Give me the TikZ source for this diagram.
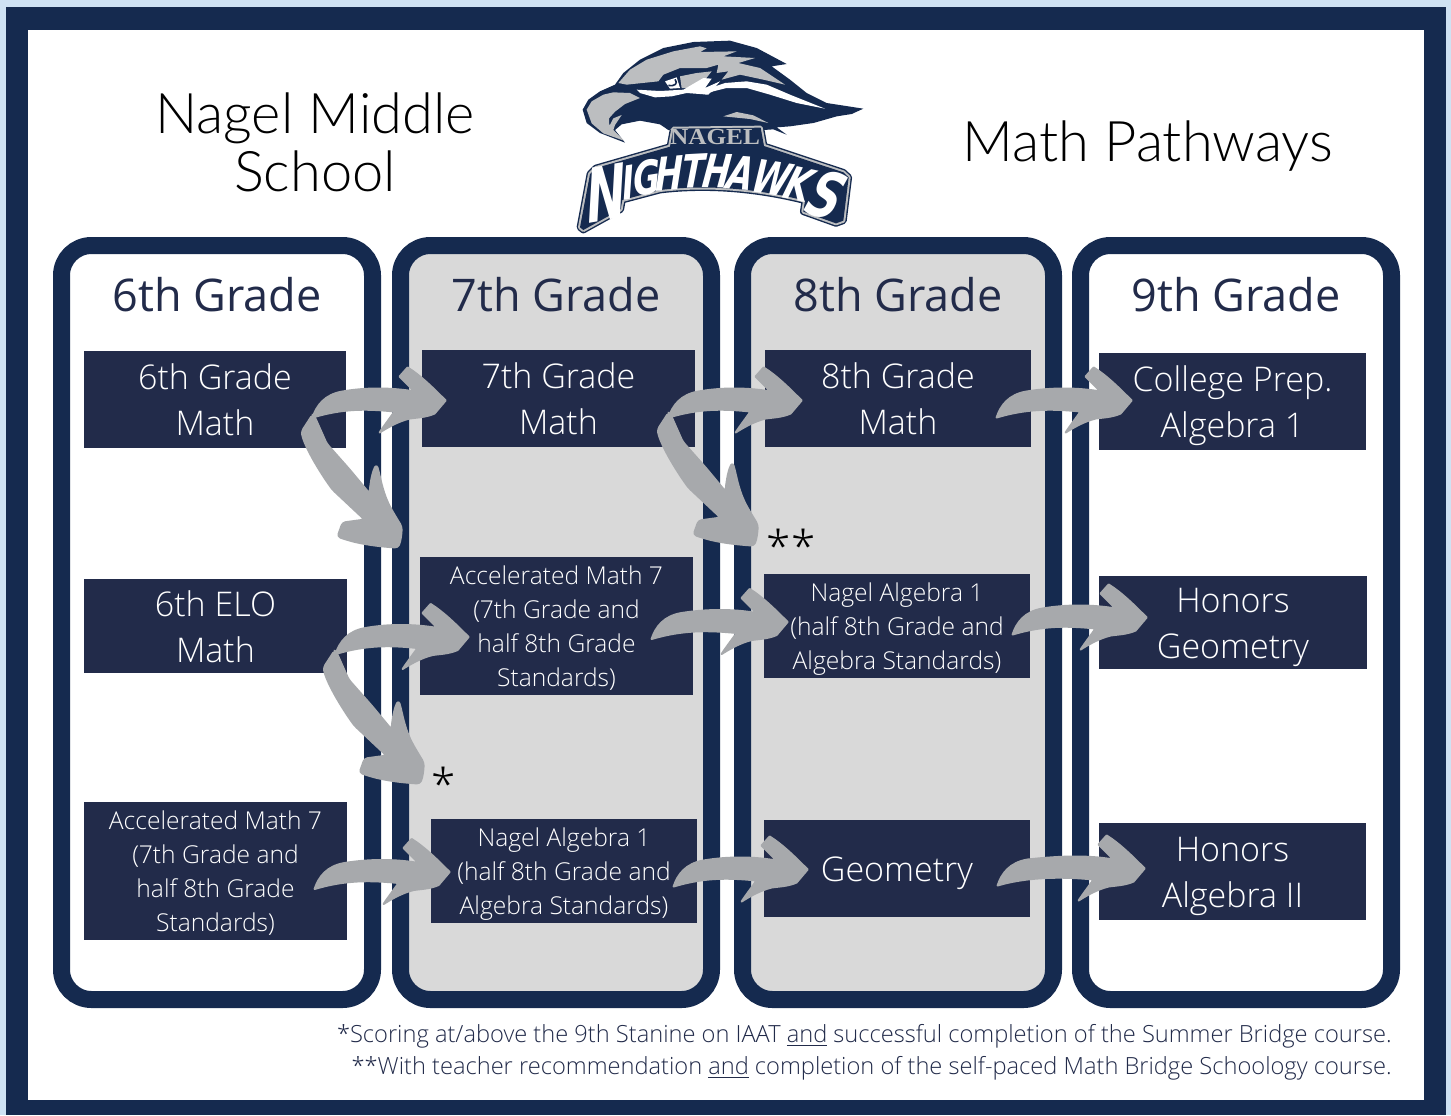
\documentclass[tikz,border=0pt]{standalone}
\usepackage{fontspec}
\usepackage{tikz}
\usetikzlibrary{calc}
\setmainfont{Open Sans Light}
\newfontfamily\headfont{Open Sans}
\newfontfamily\titlefont{Lato Light}
\newfontfamily\logofont{DejaVu Sans}
\newfontfamily\tabfont{Liberation Serif}
\definecolor{skyblue}{HTML}{CFE2F3}
\definecolor{navyframe}{HTML}{152A4F}
\definecolor{navybox}{HTML}{222B4A}
\definecolor{columngray}{HTML}{D9D9D9}
\definecolor{arrowgray}{HTML}{A7A9AC}
\definecolor{logogray}{HTML}{BCBEC0}
\tikzset{
  column/.style={draw=navyframe, line width=8.5pt, rounded corners=15pt},
  heading/.style={text=navybox, font=\headfont\fontsize{22.5}{26}\selectfont},
  bigbox/.style={fill=navybox, text=white, align=center, inner sep=0pt, text height=36pt, text depth=0pt, font=\fontsize{17}{23}\selectfont},
  smallbox/.style={fill=navybox, text=white, align=center, inner sep=0pt, text depth=0pt, font=\fontsize{12.3}{17}\selectfont},
  titletext/.style={text=black, align=center, font=\titlefont\fontsize{28}{29}\selectfont},
  notetext/.style={text=navybox, anchor=base east, inner sep=0pt, font=\fontsize{11.82}{14}\selectfont},
  starmark/.style={text=black, inner sep=0pt, font=\fontsize{22}{22}\selectfont},
  letter/.style={text=white, inner sep=0pt, xscale=.72, xslant=.15, font=\logofont\bfseries\itshape\fontsize{#1}{#1}\selectfont},
  pics/sweep/.style={code={
    \filldraw[arrowgray, line width=1pt, line join=round] (#1,17)
      .. controls ({#1+4},5) and ({#1+12},-6) .. ({#1+30},-9)
      .. controls (-80,-13) and (-55,-13) .. (-31,-9)
      -- (-46,-24) -- (-38,-33)
      .. controls (-25,-25) and (-12,-12) .. (0,0)
      -- (-11,13) .. controls (-20,17) and (-30,17) .. (-36,18)
      .. controls (-48,21) and (-58,27) .. (-66,32)
      .. controls (-62,26) and (-56,18) .. (-51,11)
      .. controls (-80,8) and ({#1+30},8) .. (#1,17) -- cycle;
  }},
  pics/swoop/.style={code={
    \filldraw[arrowgray, line width=1pt, line join=round, rounded corners=1.5pt] (-87,-132) -- (-98,-115)
      .. controls (-95,-100) and (-80,-75) .. (-67,-57) -- (-35,-27)
      -- (-57,-24) -- (-62,-10)
      .. controls (-45,-4) and (-30,-1) .. (-2,1)
      .. controls (1,-5) and (2,-14) .. (2,-20)
      .. controls (-4,-30) and (-9,-38) .. (-13,-47)
      .. controls (-18,-60) and (-20,-72) .. (-23,-82)
      .. controls (-27,-75) and (-29,-65) .. (-30,-53)
      -- (-50,-77) -- (-73,-103) -- (-85,-130) -- cycle;
  }}
}
\begin{document}
\begin{tikzpicture}[x=0.5pt, y=-0.5pt]
\useasboundingbox (0,0) rectangle (1451,1115);
% Page frame
\fill[skyblue] (0,0) rectangle (1451,1115);
\fill[navyframe] (6,7) rectangle (1446,1115);
\fill[white] (28,30) rectangle (1424,1100);

% Titles
\node[titletext] (title1) at (315,142) {Nagel Middle\\School};
\node[titletext] (title2) at (1148,146) {Math Pathways};

% Grade columns
\draw[column, fill=white] (61.5,245.5) rectangle (372.5,999.5);
\draw[column, fill=columngray] (400.5,245.5) rectangle (711.5,999.5);
\draw[column, fill=columngray] (742.5,245.5) rectangle (1053.5,999.5);
\draw[column, fill=white] (1080.5,245.5) rectangle (1391.5,999.5);
\node[heading] (head6) at (217,295) {6th Grade};
\node[heading] (head7) at (556,295) {7th Grade};
\node[heading] (head8) at (898,295) {8th Grade};
\node[heading] (head9) at (1236,295) {9th Grade};

% 6th grade boxes
\node[bigbox, minimum width=131pt, minimum height=48.5pt] (math6) at (215,399.5) {6th Grade\\Math};
\node[bigbox, minimum width=131.5pt, minimum height=47pt] (elo6) at (215.5,626) {6th ELO\\Math};
\node[smallbox, text height=60pt, minimum width=131.5pt, minimum height=69pt] (accel6) at (215.5,871) {Accelerated Math 7\\(7th Grade and\\half 8th Grade\\Standards)};

% 7th grade boxes
\node[bigbox, minimum width=136.5pt, minimum height=48.5pt] (math7) at (558.5,398.5) {7th Grade\\Math};
\node[smallbox, text height=60pt, minimum width=136.5pt, minimum height=69pt] (accel7) at (556.5,626) {Accelerated Math 7\\(7th Grade and\\half 8th Grade\\Standards)};
\node[smallbox, text height=43pt, minimum width=133pt, minimum height=52pt] (nagel7) at (564,871) {Nagel Algebra 1\\(half 8th Grade and\\Algebra Standards)};

% 8th grade boxes
\node[bigbox, minimum width=133pt, minimum height=48.5pt] (math8) at (898,398.5) {8th Grade\\Math};
\node[smallbox, text height=43pt, minimum width=133pt, minimum height=52pt] (nagel8) at (897,626) {Nagel Algebra 1\\(half 8th Grade and\\Algebra Standards)};
\node[bigbox, text height=12.5pt, minimum width=133pt, minimum height=48.5pt] (geom8) at (897,868.5) {Geometry};

% 9th grade boxes
\node[bigbox, minimum width=133.5pt, minimum height=48.5pt] (prep9) at (1232.5,401.5) {College Prep.\\Algebra 1};
\node[bigbox, minimum width=134pt, minimum height=46.5pt] (honor9) at (1233,622.5) {Honors\\Geometry};
\node[bigbox, minimum width=133.5pt, minimum height=48.5pt] (alg9) at (1232.5,871.5) {Honors\\Algebra II};

% Arrows between the grades
\pic at ($(math7.west)+(24,2)$) {sweep=-133};
\pic at ($(accel7.north west)+(-20,-10)$) {swoop};
\pic at ($(math8.west)+(37,2)$) {sweep=-133};
\pic at ($(nagel8.north west)+(-8,-29)$) {swoop};
\pic at ($(prep9.west)+(33,-1)$) {sweep=-135};
\pic at ($(accel7.west)+(49,11)$) {sweep=-133};
\pic at ($(nagel7.north west)+(-9,-36)$) {swoop};
\pic at ($(nagel8.west)+(24,-4)$) {sweep=-136};
\pic at ($(honor9.west)+(48,-5)$) {sweep=-134};
\pic at ($(nagel7.west)+(19,1)$) {sweep=-135};
\pic at ($(geom8.west)+(44,1)$) {sweep=-134};
\pic at ($(alg9.west)+(46,-3)$) {sweep=-147};

% Star marks
\node[starmark] (star1) at (444,784) {*};
\node[starmark] (star2) at (791,546) {**};

% Footnotes
\node[notetext] (note1) at (1392,1042) {*Scoring at/above the 9th Stanine on IAAT \underline{and} successful completion of the Summer Bridge course.};
\node[notetext] (note2) at (1392,1074) {**With teacher recommendation \underline{and} completion of the self-paced Math Bridge Schoology course.};

% Logo
\begin{scope}[shift={(560,30)}, x=0.16667pt, y=-0.16667pt]
\def\bannerpath{(60,592) -- (90,432) -- (108,414) -- (330,350) -- (340,296) -- (602,293) -- (612,348) -- (850,427) -- (866,442) -- (850,572) -- (828,580) -- (730,545) -- (735,512) .. controls (600,478) and (450,462) .. (300,480) -- (187,510) -- (182,538) -- (70,600) -- cycle}
% Head
\fill[navyframe] (195,338) -- (120,309) -- (80,279) -- (68,239) -- (85,209) -- (120,184) -- (165,164) -- (190,129) -- (240,89) -- (310,54) -- (400,36) -- (510,32) -- (590,54) -- (680,102) -- (635,109) -- (690,149) -- (740,189) -- (800,219) -- (910,236) -- (875,252) -- (830,259) -- (760,279) -- (690,289) -- (650,292) -- (680,314) -- (640,298) -- (610,300) -- (325,300) -- (300,283) -- (240,272) -- (185,283) -- (165,300) -- cycle;
\fill[logogray] (80,239) -- (95,214) -- (130,194) -- (160,187) -- (210,189) -- (240,204) -- (195,222) -- (165,245) -- (147,265) -- (148,288) -- (160,265) -- (185,255) -- (165,285) -- (160,300) -- (192,332) -- (130,310) -- (95,280) -- cycle;
\fill[logogray] (175,159) -- (210,119) -- (260,89) -- (340,64) -- (420,49) -- (440,55) -- (420,66) -- (530,64) -- (490,79) -- (585,84) -- (535,99) -- (600,114) -- (675,164) -- (610,149) -- (540,134) -- (485,149) -- (505,124) -- (470,129) -- (475,104) -- (440,114) -- (360,114) -- (310,134) -- (295,154) -- (200,164) -- cycle;
\fill[logogray] (360,139) -- (410,129) -- (455,124) -- (435,149) -- (380,174) -- (365,174) -- cycle;
\fill[white] (230,179) -- (300,183) -- (370,179) -- (430,144) -- (455,146) -- (435,174) -- (480,154) -- (445,194) -- (380,189) -- (335,199) -- (285,202) -- (240,189) -- cycle;
\fill[white] (435,194) -- (450,174) -- (495,159) -- (560,154) -- (620,164) -- (690,194) -- (795,236) -- (710,219) -- (630,194) -- (560,174) -- (500,174) -- (460,184) -- cycle;
\fill[white] (315,154) -- (350,142) -- (360,174) -- (330,176) -- cycle;
\draw[navyframe, line width=.8pt] (345,148) .. controls (355,160) and (345,170) .. (325,166);
\fill[logogray] (490,259) -- (530,246) -- (580,256) -- (625,279) -- (570,267) -- cycle;
% Banner
\draw[navyframe, line width=3.4pt, line join=round] \bannerpath;
\draw[logogray, line width=2pt, line join=round] \bannerpath;
\fill[navyframe] \bannerpath;
\node[text=logogray, inner sep=0pt, xscale=1.1, font=\tabfont\bfseries\fontsize{11.5}{12}\selectfont] (nagel) at (465,320) {NAGEL};
\node[rotate=10, letter=37, xscale=.9] (l1) at (140,490) {N};
\node[rotate=10, letter=23] (l2) at (205,458) {I};
\node[rotate=9, letter=23] (l3) at (262,442) {G};
\node[rotate=5, letter=23] (l4) at (328,430) {H};
\node[rotate=3, letter=23] (l5) at (402,423) {T};
\node[rotate=-1, letter=23] (l6) at (472,423) {H};
\node[rotate=-5, letter=23] (l7) at (545,428) {A};
\node[rotate=-9, letter=23] (l8) at (637,443) {W};
\node[rotate=-12, letter=23] (l9) at (718,462) {K};
\node[rotate=-15, letter=32] (l10) at (800,495) {S};
\end{scope}
\end{tikzpicture}
\end{document}
